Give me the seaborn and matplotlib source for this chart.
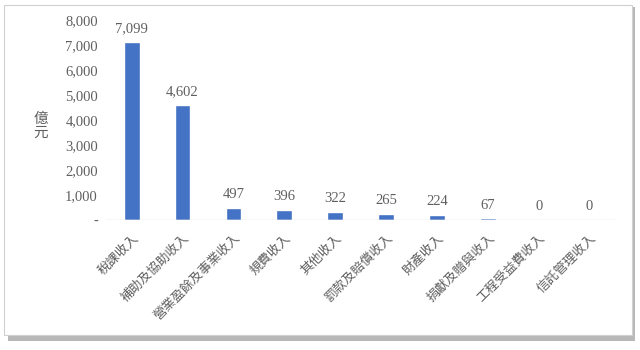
import matplotlib
matplotlib.use("Agg")
import matplotlib.pyplot as plt
import seaborn as sns
import pandas as pd
from matplotlib.patches import Rectangle

categories = ["稅課收入", "補助及協助收入", "營業盈餘及事業收入", "規費收入", "其他收入",
              "罰款及賠償收入", "財產收入", "捐獻及贈與收入", "工程受益費收入", "信託管理收入"]
values = [7099, 4602, 497, 396, 322, 265, 224, 67, 0, 0]
yticks = [0, 1000, 2000, 3000, 4000, 5000, 6000, 7000, 8000]
ytick_labels = ["-", "1,000", "2,000", "3,000", "4,000", "5,000", "6,000", "7,000", "8,000"]

sns.set_theme(style="white")
plt.rcParams['font.family'] = ['Noto Sans CJK TC', 'DejaVu Sans']

df = pd.DataFrame({"cat": categories, "val": values})
grey = "#5f5f5f"

fig = plt.figure(figsize=(6.4, 3.5), dpi=100)
# frame with shadow
fig.patches.append(Rectangle((0.012, 0.025), 0.98, 0.955, transform=fig.transFigure,
                             facecolor="#b8b8b8", edgecolor="none", zorder=-2))
fig.patches.append(Rectangle((0.006, 0.042), 0.982, 0.945, transform=fig.transFigure,
                             facecolor="white", edgecolor="#d0d0d0", lw=0.8, zorder=-1))

ax = fig.add_axes([0.166, 0.371, 0.795, 0.572])
ax.set_facecolor("none")
sns.barplot(data=df, x="cat", y="val", color="#4472C4", width=0.31, ax=ax, saturation=1)
ax.set_xlim(-0.5, 9.5)
ax.set_ylim(0, 8000)
for s in ax.spines.values():
    s.set_visible(False)
ax.axhline(0, color="#d9d9d9", lw=1.0)
ax.set_yticks(yticks)
ax.set_yticklabels(ytick_labels, family="Liberation Serif", fontsize=10.5, color=grey)
ax.set_xticks(range(len(categories)))
ax.set_xticklabels(categories, rotation=45, ha="right", rotation_mode="anchor",
                   fontsize=9.3, color=grey)
ax.tick_params(axis="both", length=0, pad=6)
ax.tick_params(axis="x", pad=8)
ax.set_xlabel("")
ax.set_ylabel("")
for i, v in enumerate(values):
    ax.annotate(f"{v:,}", (i, v), xytext=(0, 5), textcoords="offset points",
                ha="center", va="bottom", family="Liberation Serif", fontsize=10.5, color=grey)
fig.text(0.064, 0.64, "億\n元", ha="center", va="center", fontsize=10.5, color=grey,
         linespacing=1.0)
fig.savefig("out.png", dpi=100)
